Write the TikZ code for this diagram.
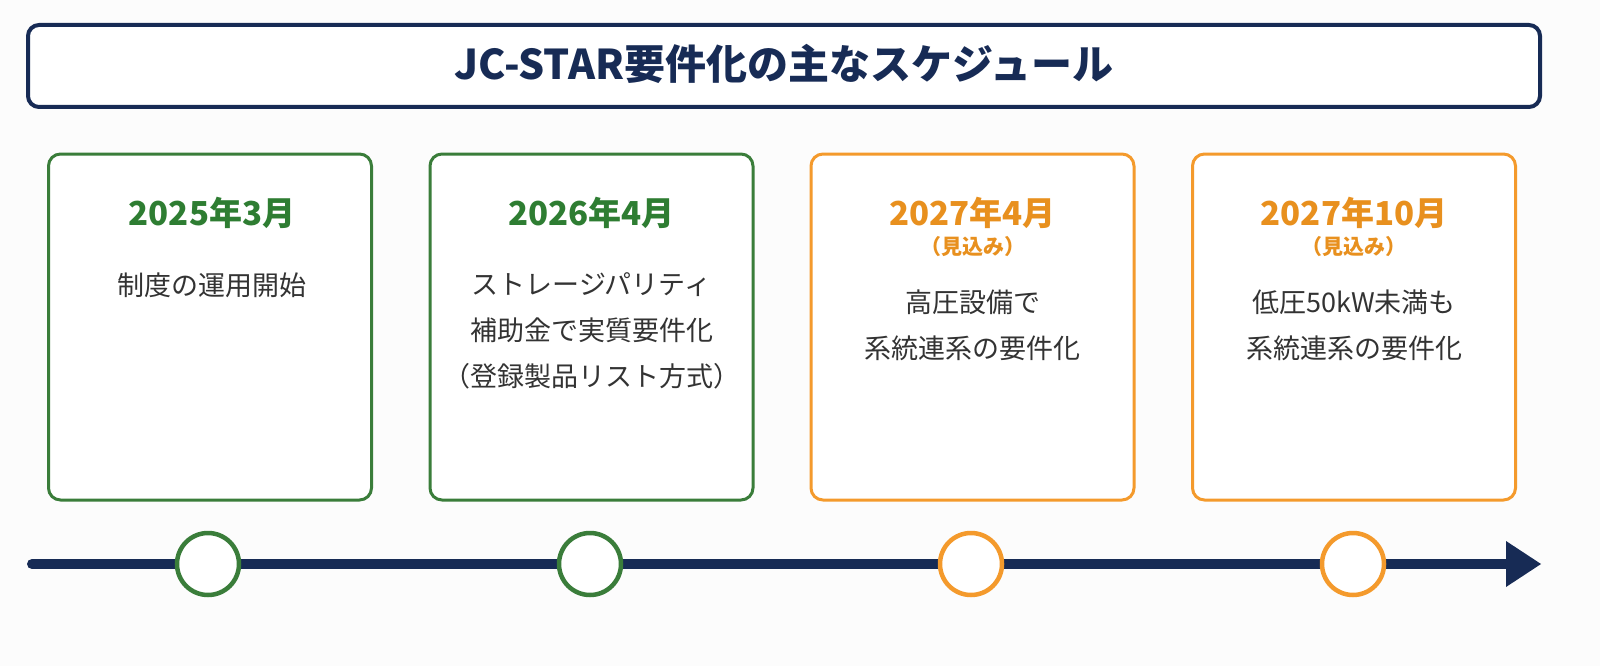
\documentclass[tikz,border=0pt]{standalone}
\usepackage{fontspec}
\setmainfont{Noto Sans CJK JP}
\definecolor{navy}{HTML}{172B55}
\definecolor{grn}{HTML}{3A7D3A}
\definecolor{grntxt}{HTML}{2E7D32}
\definecolor{org}{HTML}{F49A2C}
\definecolor{orgtxt}{HTML}{E8901E}
\definecolor{bodytxt}{HTML}{333333}
\definecolor{bg}{HTML}{FCFCFC}
\tikzset{
  titlebox/.style={draw=navy, line width=4pt, rounded corners=11pt, fill=white, minimum width=1512pt, minimum height=82pt, inner sep=0pt},
  card/.style={draw=#1, line width=3pt, rounded corners=12pt, fill=white, minimum width=323pt, minimum height=346pt, inner sep=0pt},
  milestone/.style={draw=#1, line width=4.5pt, circle, fill=white, minimum size=62pt, inner sep=0pt},
  yeartxt/.style={text=#1, font=\fontsize{33pt}{36pt}\selectfont\bfseries, inner sep=0pt},
  notetxt/.style={text=#1, font=\fontsize{21pt}{24pt}\selectfont\bfseries, inner sep=0pt},
  bodyline/.style={text=bodytxt, font=\fontsize{27pt}{30pt}\selectfont, inner sep=0pt},
}
\begin{document}
\begin{tikzpicture}[x=1pt,y=-1pt]
\fill[bg] (0,0) rectangle (1600,666);
% title
\node[titlebox] (title) at (784,66) {};
\node[text=navy, font=\fontsize{41pt}{44pt}\selectfont\bfseries, inner sep=0pt] (titletxt) at (784,64) {JC-STAR要件化の主なスケジュール};
% cards
\node[card=grn] (c1) at (210,327) {};
\node[card=grn] (c2) at (591.5,327) {};
\node[card=org] (c3) at (972.5,327) {};
\node[card=org] (c4) at (1354,327) {};
% card 1
\node[yeartxt=grntxt] (y1) at (212,213) {2025年3月};
\node[bodyline] (t1a) at (212,285) {制度の運用開始};
% card 2
\node[yeartxt=grntxt] (y2) at (591.5,213) {2026年4月};
\node[bodyline] (t2a) at (591.5,285) {ストレージパリティ};
\node[bodyline] (t2b) at (591.5,330) {補助金で実質要件化};
\node[bodyline] (t2c) at (591.5,376) {（登録製品リスト方式）};
% card 3
\node[yeartxt=orgtxt] (y3) at (972.5,213) {2027年4月};
\node[notetxt=orgtxt] (n3) at (972.5,247) {（見込み）};
\node[bodyline] (t3a) at (972.5,302) {高圧設備で};
\node[bodyline] (t3b) at (972.5,348) {系統連系の要件化};
% card 4
\node[yeartxt=orgtxt] (y4) at (1354,213) {2027年10月};
\node[notetxt=orgtxt] (n4) at (1354,247) {（見込み）};
\node[bodyline] (t4a) at (1354,302) {低圧50kW未満も};
\node[bodyline] (t4b) at (1354,348) {系統連系の要件化};
% timeline
\coordinate (tstart) at (32,564);
\coordinate (tend) at (1506,564);
\coordinate (ttip) at (1541,564);
\draw[navy, line width=10pt, line cap=round] (tstart) -- (tend);
\fill[navy] ([yshift=-23pt]tend) -- (ttip) -- ([yshift=23pt]tend) -- cycle;
\node[milestone=grn] (m1) at (208,564) {};
\node[milestone=grn] (m2) at (590,564) {};
\node[milestone=org] (m3) at (971,564) {};
\node[milestone=org] (m4) at (1353,564) {};
\pgfresetboundingbox
\useasboundingbox (0,0) rectangle (1600,666);
\end{tikzpicture}
\end{document}
